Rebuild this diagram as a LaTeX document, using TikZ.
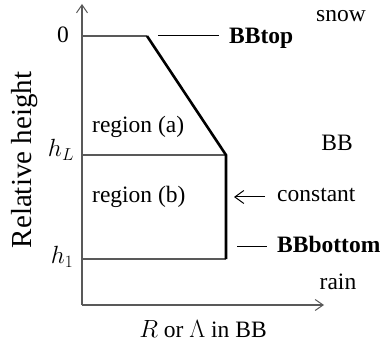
\documentclass[tikz,border=0pt]{standalone}
\usepackage{fontspec}
\setmainfont{Liberation Serif}
\usetikzlibrary{arrows.meta}
\begin{document}
\begin{tikzpicture}[x=1pt,y=-1pt,
  thin line/.style={draw=black!65,line width=1.1pt},
  thick line/.style={draw=black,line width=2.6pt},
  lbl/.style={inner sep=0pt,font=\fontsize{23.5}{27}\selectfont},
  barb/.style={-{Straight Barb[length=8pt,width=11pt,line width=1pt]}}]
\useasboundingbox (0,0) rectangle (389,345);
% coordinates
\coordinate (O) at (82,305);
\coordinate (Ytop) at (82,4);
\coordinate (Xend) at (324,305);
\coordinate (Z0) at (82,36);
\coordinate (Ztop) at (147,36);
\coordinate (L0) at (82,155);
\coordinate (Lc) at (226,155);
\coordinate (B0) at (82,259);
\coordinate (Bc) at (226,259);
\coordinate (t1) at (158,36);
\coordinate (t2) at (219,36);
\coordinate (c1) at (265,197);
\coordinate (c2) at (234,197);
\coordinate (b1) at (237,246);
\coordinate (b2) at (267,246);
% axes
\draw[thin line,barb] (O) -- (Ytop);
\draw[thin line,barb] (O) -- (Xend);
% horizontal levels
\draw[thin line] (Z0) -- (Ztop);
\draw[thin line] (L0) -- (Lc);
\draw[thin line] (B0) -- (Bc);
% profile
\draw[thick line,line join=miter] (Ztop) -- (Lc) -- (Bc);
% pointer lines
\draw[draw=black,line width=1pt] (t1) -- (t2);
\draw[draw=black,line width=1pt,-{Straight Barb[length=9pt,width=13pt,line width=1pt]}] (c1) -- (c2);
\draw[draw=black,line width=1pt] (b1) -- (b2);
% labels
\node[lbl,anchor=west] (bbtop) at (229,38) {\textbf{BBtop}};
\node[lbl] (snow) at (341,16) {snow};
\node[lbl] (bb) at (337,143) {BB};
\node[lbl,anchor=west] (const) at (277,195) {constant};
\node[lbl,anchor=west] (bbbot) at (277,244) {\textbf{BBbottom}};
\node[lbl] (rain) at (338,282) {rain};
\node[lbl,anchor=west] (ra) at (92,127) {region (a)};
\node[lbl,anchor=west] (rb) at (92,197) {region (b)};
\node[lbl] (zero) at (63,35) {0};
\node[lbl] (hL) at (61,150) {$h_L$};
\node[lbl] (h1) at (62,257) {$h_1$};
\node[lbl] (xlab) at (203,329) {$R$ or $\Lambda$ in BB};
\node[inner sep=0pt,font=\fontsize{29}{32}\selectfont,rotate=90] (ylab) at (25,160) {Relative height};
\end{tikzpicture}
\end{document}
